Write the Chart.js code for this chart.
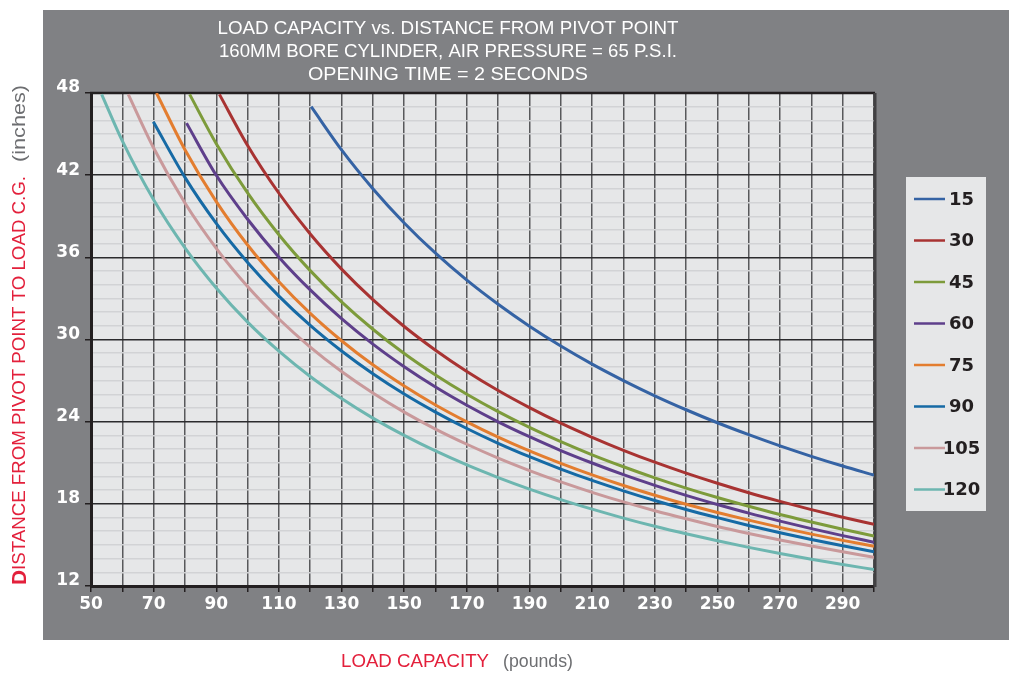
<!DOCTYPE html>
<html><head><meta charset="utf-8">
<script src="https://cdn.jsdelivr.net/npm/chart.js@4.4.1/dist/chart.umd.min.js"></script>
<style>html,body{margin:0;padding:0;background:#fff;overflow:hidden}canvas{display:block}</style>
</head><body>
<canvas id="c" width="1009" height="673"></canvas>
<script>
// ---- data (lightly smoothed) ----
const seriesNames = ['15','30','45','60','75','90','105','120'];
const load15  = [120.3,130,140,150,160,170,180,190,200,210,220,230,240,250,260,270,280,290,300];
const dist15  = [47.0,43.84,41.01,38.51,36.3,34.33,32.57,30.97,29.52,28.2,27.0,25.89,24.87,23.92,23.05,22.23,21.47,20.76,20.1];
const load30  = [91,100,110,120,130,140,150,160,170,180,190,200,210,220,230,240,250,260,270,280,290,300];
const dist30  = [47.9,44.17,40.68,37.7,35.14,32.91,30.95,29.22,27.67,26.28,25.03,23.89,22.86,21.91,21.04,20.24,19.5,18.81,18.18,17.58,17.02,16.5];
const load45  = [81.5,90,100,110,120,130,140,150,160,170,180,190,200,210,220,230,240,250,260,270,280,290,300];
const dist45  = [47.9,44.3,40.7,37.65,35.03,32.75,30.75,28.98,27.41,26.0,24.73,23.58,22.54,21.58,20.71,19.9,19.15,18.46,17.82,17.22,16.67,16.14,15.65];
const load60  = [80.5,90,100,110,120,130,140,150,160,170,180,190,200,210,220,230,240,250,260,270,280,290,300];
const dist60  = [45.8,41.99,38.78,36.01,33.62,31.52,29.66,28.01,26.53,25.2,23.99,22.9,21.89,20.98,20.13,19.35,18.62,17.95,17.32,16.74,16.19,15.68,15.2];
const load75  = [70.9,80,90,100,110,120,130,140,150,160,170,180,190,200,210,220,230,240,250,260,270,280,290,300];
const dist75  = [48,43.86,40.07,36.9,34.22,31.91,29.91,28.15,26.6,25.22,23.99,22.87,21.86,20.95,20.11,19.34,18.63,17.97,17.37,16.81,16.28,15.79,15.33,14.9];
const load90  = [69.9,80,90,100,110,120,130,140,150,160,170,180,190,200,210,220,230,240,250,260,270,280,290,300];
const dist90  = [45.9,41.84,38.48,35.63,33.17,31.03,29.16,27.5,26.02,24.7,23.5,22.42,21.44,20.54,19.71,18.95,18.24,17.59,16.99,16.42,15.89,15.4,14.94,14.5];
const load105 = [61.9,70,80,90,100,110,120,130,140,150,160,170,180,190,200,210,220,230,240,250,260,270,280,290,300];
const dist105 = [47.9,43.98,39.97,36.66,33.87,31.5,29.45,27.66,26.09,24.7,23.46,22.35,21.34,20.43,19.6,18.84,18.14,17.5,16.91,16.35,15.84,15.36,14.92,14.5,14.1];
const load120 = [53.4,60,70,80,90,100,110,120,130,140,150,160,170,180,190,200,210,220,230,240,250,260,270,280,290,300];
const dist120 = [47.9,44.5,40.2,36.69,33.76,31.27,29.15,27.3,25.69,24.26,23.0,21.86,20.84,19.92,19.08,18.31,17.61,16.96,16.36,15.81,15.3,14.82,14.37,13.96,13.57,13.2];
const xMin = 50, xMax = 300, xStep = 10, xLabelStep = 20;
const yMin = 12, yMax = 48, yMajor = 6;
const titleLines = ['LOAD CAPACITY vs. DISTANCE FROM PIVOT POINT','160MM BORE CYLINDER, AIR PRESSURE = 65 P.S.I.','OPENING TIME = 2 SECONDS'];
const xTitle = ['LOAD CAPACITY', '(pounds)'];
const yTitle = ['D', 'ISTANCE FROM PIVOT POINT TO LOAD C.G.', '(inches)'];

const seriesLoads = [load15,load30,load45,load60,load75,load90,load105,load120];
const seriesDists = [dist15,dist30,dist45,dist60,dist75,dist90,dist105,dist120];
const seriesColors = ['#3563a4','#a83332','#7d9b3b','#5e3f8b','#e37d2f','#166aa5','#c9999b','#6db6b0'];

const datasets = seriesNames.map((n,i)=>({
  label: n,
  data: seriesLoads[i].map((x,j)=>({x:x, y:seriesDists[i][j]})),
  borderColor: seriesColors[i],
  backgroundColor: seriesColors[i],
  borderWidth: 3,
  pointRadius: 0,
  cubicInterpolationMode: 'monotone',
  fill: false
}));

const SANS = '"Liberation Sans", Arial, sans-serif';
function fitText(ctx, text, left, y, width, font, color) {
  ctx.save();
  ctx.font = font;
  const m = ctx.measureText(text).width;
  ctx.translate(left, y);
  ctx.scale(width / m, 1);
  ctx.fillStyle = color;
  ctx.textAlign = 'left';
  ctx.textBaseline = 'middle';
  ctx.fillText(text, 0, 0);
  ctx.restore();
}

const decor = {
  id: 'decor',
  beforeDraw(chart) {
    const ctx = chart.ctx, a = chart.chartArea;
    ctx.save();
    ctx.fillStyle = '#ffffff';
    ctx.fillRect(0, 0, chart.width, chart.height);
    ctx.fillStyle = '#808184';
    ctx.fillRect(43, 10, chart.width - 43, 630);
    ctx.fillStyle = '#e6e7e8';
    ctx.fillRect(a.left, a.top, a.right - a.left, a.bottom - a.top);
    ctx.restore();
  },
  beforeDatasetsDraw(chart) {
    const ctx = chart.ctx, a = chart.chartArea;
    ctx.save();
    ctx.strokeStyle = '#231f20';
    ctx.lineWidth = 2.5;
    ctx.beginPath(); ctx.moveTo(a.left - 1, a.top); ctx.lineTo(a.right + 1, a.top); ctx.stroke();
    ctx.strokeStyle = '#414042';
    ctx.lineWidth = 3;
    ctx.beginPath(); ctx.moveTo(a.right + 1, a.top); ctx.lineTo(a.right + 1, a.bottom + 1); ctx.stroke();
    ctx.restore();
  },
  afterDraw(chart) {
    const ctx = chart.ctx;
    // title
    const tw = [461, 458, 280], ty = [29, 52, 75], cx = 448;
    titleLines.forEach((t, i) => fitText(ctx, t, cx - tw[i] / 2, ty[i], tw[i], '18px ' + SANS, '#ffffff'));
    // x axis title
    fitText(ctx, xTitle[0], 341, 662, 148, '18px ' + SANS, '#e3203b');
    fitText(ctx, xTitle[1], 503, 662, 70, '18px ' + SANS, '#6d6e71');
    // y axis title (rotated)
    ctx.save();
    ctx.translate(20, 0);
    ctx.rotate(-Math.PI / 2);
    ctx.font = 'bold 20px ' + SANS;
    const dW = ctx.measureText(yTitle[0]).width;
    ctx.font = '18px ' + SANS;
    const rW = ctx.measureText(yTitle[1]).width;
    const total = 409, sc = total / (dW + rW);
    ctx.save();
    ctx.translate(-585, 0);
    ctx.scale(sc, 1);
    ctx.textBaseline = 'middle';
    ctx.fillStyle = '#e3203b';
    ctx.font = 'bold 20px ' + SANS;
    ctx.fillText(yTitle[0], 0, 0);
    ctx.font = '18px ' + SANS;
    ctx.fillText(yTitle[1], dW, 0);
    ctx.restore();
    fitText(ctx, yTitle[2], -162, 0, 77, '18px ' + SANS, '#6d6e71');
    ctx.restore();
    // legend
    ctx.save();
    ctx.fillStyle = '#e6e7e8';
    ctx.fillRect(906, 177, 80, 334);
    seriesNames.forEach((n, i) => {
      const y = 199 + i * 41.5;
      ctx.strokeStyle = seriesColors[i];
      ctx.lineWidth = 2.5;
      ctx.beginPath(); ctx.moveTo(914, y); ctx.lineTo(945, y); ctx.stroke();
      ctx.fillStyle = '#231f20';
      ctx.font = 'bold 18px "DejaVu Sans", sans-serif';
      ctx.textAlign = 'center';
      ctx.textBaseline = 'middle';
      ctx.fillText(n, 961.5, y + 1);
    });
    ctx.restore();
  }
};

new Chart(document.getElementById('c'), {
  type: 'line',
  data: { datasets },
  plugins: [decor],
  options: {
    responsive: false,
    animation: false,
    devicePixelRatio: 1,
    layout: { padding: { left: 43, right: 135, top: 93, bottom: 57 } },
    plugins: { legend: { display: false }, title: { display: false }, tooltip: { enabled: false } },
    scales: {
      x: {
        type: 'linear', min: xMin, max: xMax,
        afterFit: s => { s.height = 30; },
        ticks: {
          stepSize: xStep, autoSkip: false, maxRotation: 0, padding: 2,
          color: '#ffffff', font: { family: '"DejaVu Sans", sans-serif', weight: 'bold', size: 17 },
          callback: v => ((v - xMin) % xLabelStep === 0 && v < xMax) ? String(v) : ''
        },
        grid: { color: '#58595b', lineWidth: 1.5, tickColor: '#231f20', tickLength: 6 },
        border: { color: '#231f20', width: 3 }
      },
      y: {
        type: 'linear', min: yMin, max: yMax,
        afterFit: s => { s.width = 48; },
        ticks: {
          stepSize: 1, autoSkip: false, padding: 5, labelOffset: -5,
          color: '#ffffff', font: { family: '"DejaVu Sans", sans-serif', weight: 'bold', size: 17 },
          callback: v => (v % yMajor === 0) ? String(v) : ''
        },
        grid: {
          color: c => (c.tick && c.tick.value % yMajor === 0) ? '#2b2b2d' : '#d2d3d5',
          lineWidth: 1.5,
          tickColor: c => (c.tick && c.tick.value % yMajor === 0) ? '#231f20' : 'rgba(0,0,0,0)',
          tickLength: 6
        },
        border: { color: '#231f20', width: 3 }
      }
    }
  }
});
</script>
</body></html>
